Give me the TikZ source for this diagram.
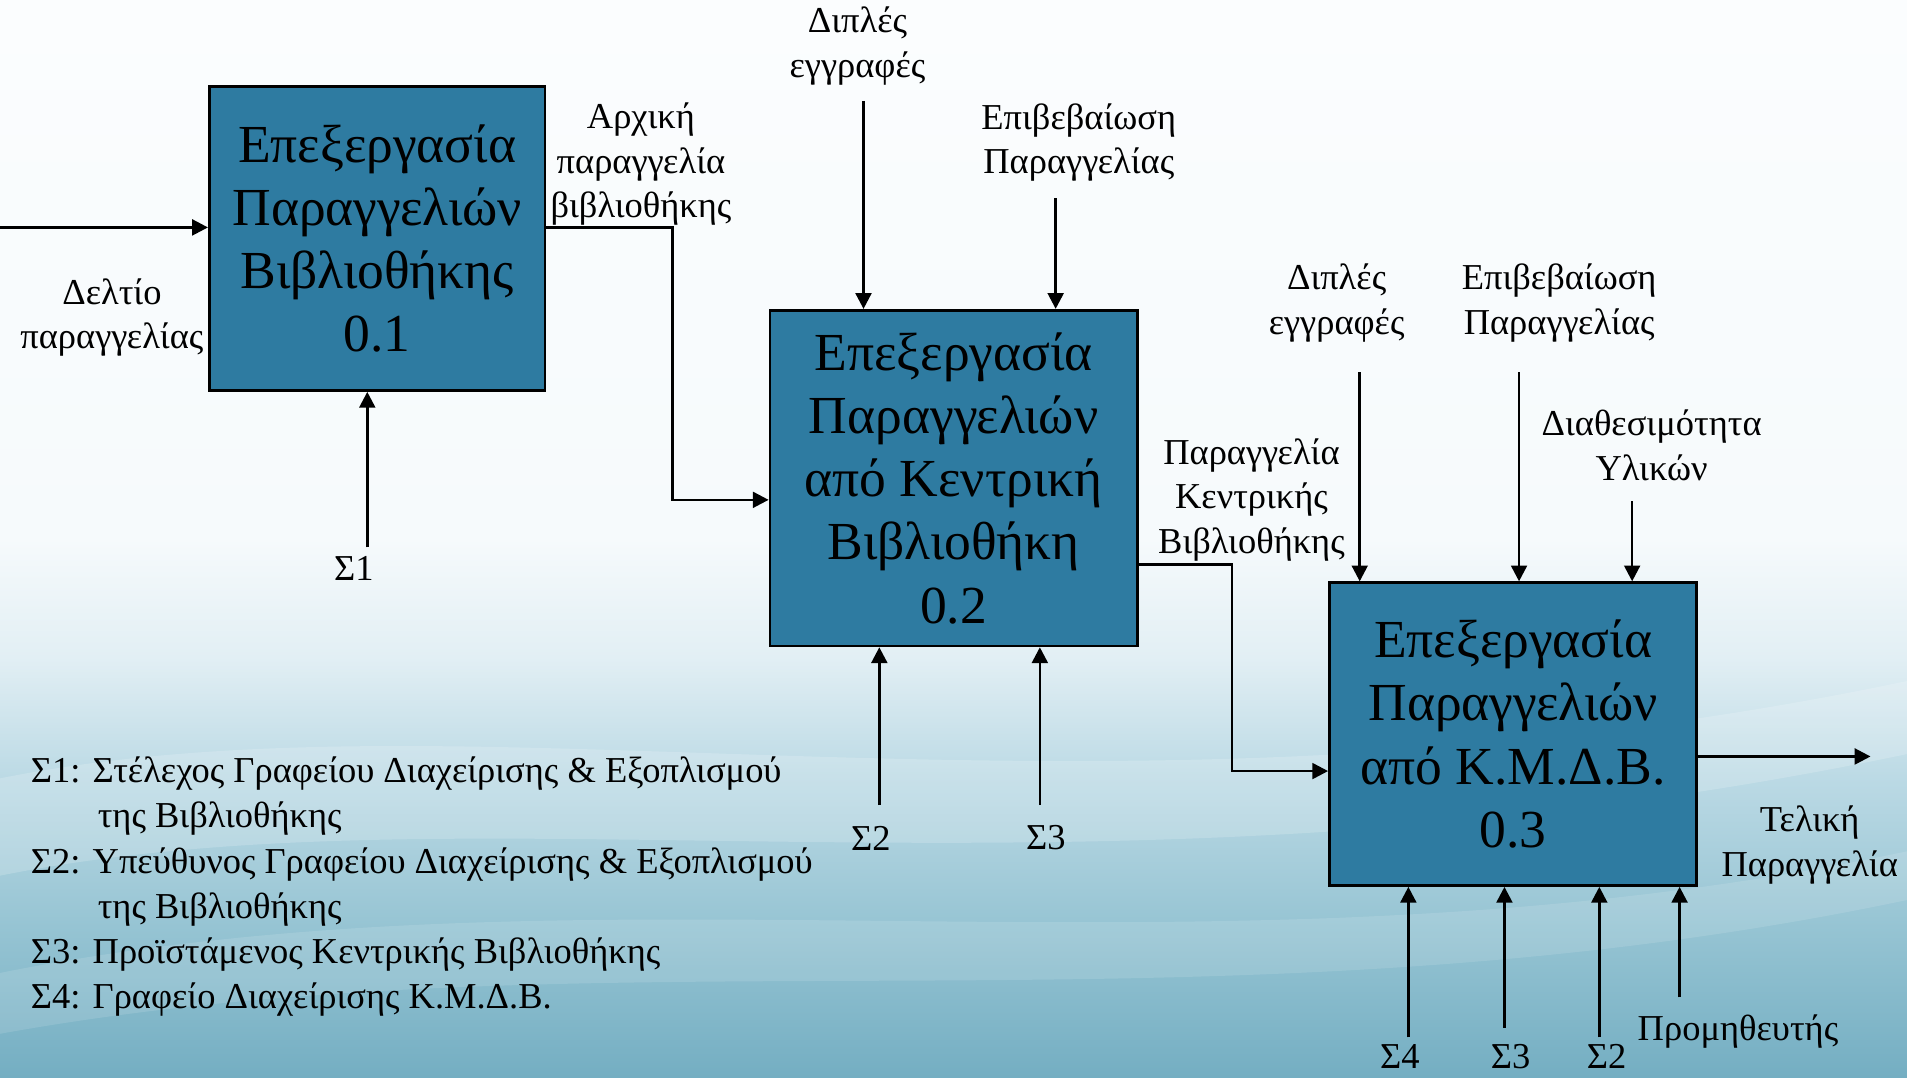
\documentclass[tikz,border=0pt]{standalone}
\usepackage{fontspec}
\setmainfont{Liberation Serif}
\usetikzlibrary{arrows.meta,calc}
\definecolor{boxblue}{HTML}{2E7BA1}
\pgfdeclareverticalshading{slidebg}{100bp}{%
  color(0bp)=(rgb,255:red,112;green,171;blue,192);
  color(25bp)=(rgb,255:red,116;green,174;blue,194);
  color(32bp)=(rgb,255:red,150;green,196;blue,211);
  color(39bp)=(rgb,255:red,188;green,218;blue,229);
  color(44.5bp)=(rgb,255:red,226;green,239;blue,244);
  color(50bp)=(rgb,255:red,246;green,250;blue,252);
  color(75bp)=(rgb,255:red,251;green,253;blue,254);
  color(100bp)=(rgb,255:red,251;green,253;blue,254)}
\begin{document}
\begin{tikzpicture}[x=0.5pt,y=-0.5pt,
  proc/.style={draw=black,line width=1.1pt,fill=boxblue,align=center,
    font=\fontsize{22}{26}\selectfont,inner sep=0pt,anchor=north west},
  lbl/.style={align=center,font=\fontsize{15}{18.3}\selectfont,inner sep=0pt},
  legend/.style={align=left,font=\fontsize{15}{18.6}\selectfont,inner sep=0pt,anchor=north west},
  flow/.style={line width=1.1pt,-{Triangle[length=6.5pt,width=6.5pt]}},
  wire/.style={line width=1.1pt}]

% slide background
\useasboundingbox (0,0) rectangle (1568,886);
\shade[shading=slidebg] (0,0) rectangle (1568,886);
\fill[white,opacity=0.18] (0,640) .. controls (400,560) and (900,700) .. (1568,560)
  -- (1568,620) .. controls (900,760) and (400,640) .. (0,720) -- cycle;
\fill[white,opacity=0.12] (0,800) .. controls (500,700) and (1000,820) .. (1568,700)
  -- (1568,740) .. controls (1000,860) and (500,760) .. (0,850) -- cycle;

% process boxes
\node[proc,minimum width=138pt,minimum height=125pt] (b1) at (171,70)
  {Επεξεργασία\\Παραγγελιών\\Βιβλιοθήκης\\0.1};
\node[proc,minimum width=151pt,minimum height=138pt] (b2) at (632,254)
  {Επεξεργασία\\Παραγγελιών\\από Κεντρική\\Βιβλιοθήκη\\0.2};
\node[proc,minimum width=151pt,minimum height=124.5pt] (b3) at (1092,478)
  {Επεξεργασία\\Παραγγελιών\\από Κ.Μ.Δ.Β.\\0.3};

% labels
\node[lbl] (lin) at (92,261) {Δελτίο\\παραγγελίας};
\node[lbl] (ls1) at (291,467) {Σ1};
\node[lbl] (lo1) at (527,135) {Αρχική\\παραγγελία\\βιβλιοθήκης};
\node[lbl] (ld2) at (705,38) {Διπλές\\εγγραφές};
\node[lbl] (le2) at (887,117) {Επιβεβαίωση\\Παραγγελίας};
\node[lbl] (ls22) at (716,689) {Σ2};
\node[lbl] (ls32) at (860,689) {Σ3};
\node[lbl] (lo2) at (1029,411) {Παραγγελία\\Κεντρικής\\Βιβλιοθήκης};
\node[lbl] (ld3) at (1099,249) {Διπλές\\εγγραφές};
\node[lbl] (le3) at (1282,249) {Επιβεβαίωση\\Παραγγελίας};
\node[lbl] (lav) at (1358,366) {Διαθεσιμότητα\\Υλικών};
\node[lbl] (lout) at (1488,695) {Τελική\\Παραγγελία};
\node[lbl] (ls43) at (1151,869) {Σ4};
\node[lbl] (ls33) at (1242,869) {Σ3};
\node[lbl] (ls23) at (1321,869) {Σ2};
\node[lbl] (lsup) at (1429,848) {Προμηθευτής};

% free ends of connectors
\coordinate (inA) at (0,187);
\coordinate (s1A) at (302,450);
\coordinate (d2A) at (710,83);
\coordinate (e2A) at (868,163);
\coordinate (s22A) at (723,662);
\coordinate (s32A) at (855,662);
\coordinate (d3A) at (1118,306);
\coordinate (e3A) at (1249,306);
\coordinate (avA) at (1342,412);
\coordinate (outB) at (1538,622);
\coordinate (s43A) at (1158,853);
\coordinate (s33A) at (1237,845);
\coordinate (s23A) at (1315,853);
\coordinate (supA) at (1381,820);

% box 0.1
\draw[flow] (inA) -- (inA -| b1.west);
\draw[flow] (s1A) -- (s1A |- b1.south);
\draw[flow] (b1.east |- inA) -| (553,411) -- (b2.west |- 0,411);

% box 0.2
\draw[flow] (d2A) -- (d2A |- b2.north);
\draw[flow] (e2A) -- (e2A |- b2.north);
\draw[flow] (s22A) -- (s22A |- b2.south);
\draw[flow] (s32A) -- (s32A |- b2.south);
\draw[flow] (b2.east |- 0,464) -| (1013,634) -- (b3.west |- 0,634);

% box 0.3
\draw[flow] (d3A) -- (d3A |- b3.north);
\draw[flow] (e3A) -- (e3A |- b3.north);
\draw[flow] (avA) -- (avA |- b3.north);
\draw[flow] (b3.east |- outB) -- (outB);
\draw[flow] (s43A) -- (s43A |- b3.south);
\draw[flow] (s33A) -- (s33A |- b3.south);
\draw[flow] (s23A) -- (s23A |- b3.south);
\draw[flow] (supA) -- (supA |- b3.south);

% roles
\node[legend] (leg) at (25,622) {%
  Σ1: Στέλεχος Γραφείου Διαχείρισης \& Εξοπλισμού\\
  \hspace*{27.5pt}της Βιβλιοθήκης\\
  Σ2: Υπεύθυνος Γραφείου Διαχείρισης \& Εξοπλισμού\\
  \hspace*{27.5pt}της Βιβλιοθήκης\\
  Σ3: Προϊστάμενος Κεντρικής Βιβλιοθήκης\\
  Σ4: Γραφείο Διαχείρισης Κ.Μ.Δ.Β.};
\end{tikzpicture}
\end{document}
